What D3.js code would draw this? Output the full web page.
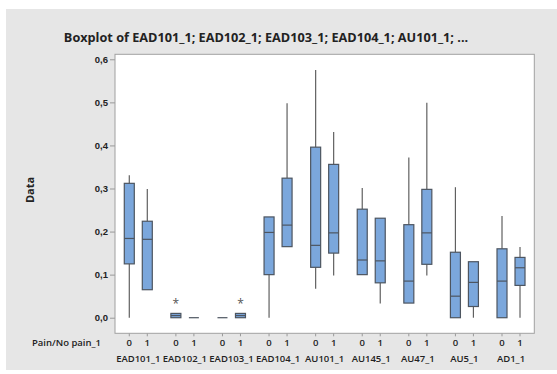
<!DOCTYPE html>
<html><head><meta charset="utf-8">
<script src="https://cdn.jsdelivr.net/npm/d3@7"></script>
<style>
body{margin:0;background:#fff;}
svg{display:block;font-family:"Open Sans","Noto Sans",sans-serif;}
</style></head>
<body>
<svg id="chart" width="557" height="374"></svg>
<script>
const categories = ["EAD101_1","EAD102_1","EAD103_1","EAD104_1","AU101_1","AU145_1","AU47_1","AU5_1","AD1_1"];
const groups = ["0","1"];
const yTicks = [0,0.1,0.2,0.3,0.4,0.5,0.6];
// ordered: category, then group 0/1
const whiskerLow = [0,0.065, 0,0, 0,0, 0,0.165, 0.067,0.098, 0.1,0.033, 0.034,0.098, 0,0, 0,0];
const q1 =         [0.125,0.065, 0,0, 0,0, 0.1,0.165, 0.117,0.150, 0.1,0.081, 0.034,0.124, 0,0.026, 0,0.075];
const median =     [0.184,0.182, 0.005,0, 0,0.005, 0.198,0.215, 0.168,0.197, 0.134,0.132, 0.085,0.197, 0.050,0.082, 0.085,0.116];
const q3 =         [0.312,0.224, 0.010,0, 0,0.010, 0.234,0.324, 0.396,0.356, 0.252,0.231, 0.216,0.298, 0.152,0.130, 0.160,0.140];
const whiskerHigh =[0.331,0.299, 0.010,0, 0,0.010, 0.234,0.498, 0.575,0.431, 0.301,0.231, 0.372,0.499, 0.303,0.130, 0.236,0.164];
const outlierCat = ["EAD102_1","EAD103_1"];
const outlierGroup = ["0","1"];
const outlierValue = [0.033,0.033];

const boxes = [];
categories.forEach((c,i)=>groups.forEach((g,j)=>{
  const k=i*2+j;
  boxes.push({cat:c,grp:g,lo:whiskerLow[k],q1:q1[k],med:median[k],q3:q3[k],hi:whiskerHigh[k]});
}));

const svg = d3.select("#chart");
const L=115, R=534.3, T=54.3, B=333.3;
svg.append("rect").attr("x",6).attr("y",9).attr("width",551).attr("height",361).attr("fill","#e6e6e6");
svg.append("rect").attr("x",L).attr("y",T).attr("width",R-L).attr("height",B-T).attr("fill","#fff");

const y = d3.scaleLinear().domain([-0.0362,0.6116]).range([B,T]);
const x = d3.scaleBand().domain(categories).range([L,R]).padding(0);
const xi = d3.scalePoint().domain(groups).range([0,x.bandwidth()]).padding(0.794);
const bw = 10;
const px = d=> x(d.cat)+xi(d.grp);

// y axis
const ya = svg.append("g").attr("transform",`translate(${L},0)`)
  .call(d3.axisLeft(y).tickValues(yTicks).tickSize(5).tickPadding(2).tickFormat(d=>d.toFixed(1).replace(".",",")));
ya.select(".domain").remove();
ya.selectAll(".tick line").attr("stroke","#999");
ya.selectAll(".tick text").attr("fill","#222").attr("font-size","9.5px").attr("font-weight","600");

// x ticks
const xt = svg.append("g");
boxes.forEach(d=>{
  xt.append("line").attr("x1",px(d)).attr("x2",px(d)).attr("y1",B).attr("y2",B+3).attr("stroke","#999");
  xt.append("text").attr("x",px(d)).attr("y",346).attr("text-anchor","middle").attr("font-size","9.5px").attr("font-weight","600").attr("fill","#222").text(d.grp);
});
categories.forEach(c=>{
  xt.append("text").attr("x",x(c)+x.bandwidth()/2).attr("y",362).attr("text-anchor","middle").attr("font-size","9.5px").attr("font-weight","600").attr("fill","#222").text(c);
});
svg.append("text").attr("x",101).attr("y",346).attr("text-anchor","end").attr("font-size","9.5px").attr("font-weight","600").attr("fill","#222").text("Pain/No pain_1");

// frame
svg.append("rect").attr("x",L).attr("y",T).attr("width",R-L).attr("height",B-T).attr("fill","none").attr("stroke","#a0a0a0");

// boxes
const gb = svg.append("g");
boxes.forEach(d=>{
  const cx=px(d);
  if(d.hi>d.q3) gb.append("line").attr("x1",cx).attr("x2",cx).attr("y1",y(d.q3)).attr("y2",y(d.hi)).attr("stroke","#606060").attr("stroke-width",1.2);
  if(d.lo<d.q1) gb.append("line").attr("x1",cx).attr("x2",cx).attr("y1",y(d.q1)).attr("y2",y(d.lo)).attr("stroke","#606060").attr("stroke-width",1.2);
  gb.append("rect").attr("x",cx-bw/2).attr("y",y(d.q3)).attr("width",bw).attr("height",Math.max(0,y(d.q1)-y(d.q3)))
    .attr("fill","#7ba7dc").attr("stroke","#4d5560").attr("stroke-width",1.2);
  gb.append("line").attr("x1",cx-bw/2).attr("x2",cx+bw/2).attr("y1",y(d.med)).attr("y2",y(d.med)).attr("stroke","#4d5560").attr("stroke-width",1.2);
});
outlierValue.forEach((v,i)=>{
  const cx = x(outlierCat[i])+xi(outlierGroup[i]);
  gb.append("text").attr("x",cx).attr("y",y(v)+5).attr("text-anchor","middle").attr("font-size","12px").attr("fill","#555").text("*");
});

// titles
svg.append("text").attr("x",266).attr("y",42).attr("text-anchor","middle").attr("font-size","12.7px").attr("font-weight","700").attr("fill","#222")
  .text("Boxplot of EAD101_1; EAD102_1; EAD103_1; EAD104_1; AU101_1; ...");
svg.append("text").attr("transform","translate(34,190) rotate(-90)").attr("text-anchor","middle").attr("font-size","11px").attr("font-weight","700").attr("fill","#222").text("Data");
</script>
</body></html>
